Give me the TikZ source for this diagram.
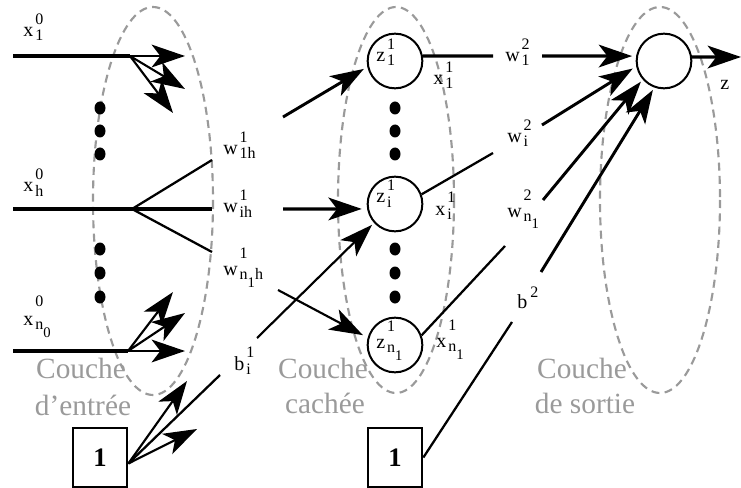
\documentclass[tikz,border=0pt]{standalone}
\usepackage{fontspec}
\setmainfont{Liberation Serif}
\usetikzlibrary{arrows.meta}
\definecolor{lgrey}{HTML}{9A9A9A}
\newcommand{\scr}{\fontsize{12}{12}\selectfont}
\newcommand{\sscr}{\fontsize{11}{11}\selectfont}
\newcommand{\lab}[4][.78em]{#2\kern.1em{\scr\ooalign{\raisebox{-.25em}{#3}\cr\raisebox{#1}{#4}\cr}}}
\newcommand{\nsub}[1]{\raisebox{-.5em}{\sscr #1}}
\tikzset{
  layer/.style={draw=lgrey, line width=1.6pt, dash pattern=on 6pt off 4pt},
  neuron/.style={circle, draw, fill=white, line width=1.5pt, minimum size=41pt, inner sep=0pt},
  biasbox/.style={draw, fill=white, line width=1.5pt, minimum width=41pt, minimum height=44pt,
    font=\fontsize{20}{20}\selectfont\bfseries},
  arr/.style={-{Stealth[length=25pt,width=17pt,inset=6.5pt]}, line width=1.6pt},
  thickline/.style={line width=2.4pt},
  thinline/.style={line width=1.7pt},
  lbl/.style={anchor=base west, inner sep=0pt, font=\fontsize{15}{15}\selectfont},
  couche/.style={anchor=base, inner sep=0pt, text=lgrey, font=\fontsize{22}{22}\selectfont},
  dot/.style={fill=black}
}
\begin{document}
\begin{tikzpicture}[x=0.75pt,y=-0.75pt]
\useasboundingbox (0,0) rectangle (741,488);

% layers
\draw[layer] (153,201) ellipse [x radius=60, y radius=194];
\draw[layer] (396,200) ellipse [x radius=58, y radius=193];
\draw[layer] (660,200) ellipse [x radius=60, y radius=193];

% dots
\foreach \yy in {108,131,154,249,273,297} {
  \fill[dot] (100,\yy) ellipse [x radius=5.5, y radius=6.5];
  \fill[dot] (395,\yy) ellipse [x radius=5.5, y radius=6.5];
}

% coordinates
\coordinate (s1) at (13,56);   \coordinate (j1) at (130,56);
\coordinate (t11) at (185,56); \coordinate (t12) at (185,89); \coordinate (t13) at (173,113);
\coordinate (sh) at (13,209);  \coordinate (jh) at (132,209);
\coordinate (e1) at (212,160); \coordinate (e2) at (212,209); \coordinate (e3) at (212,252);
\coordinate (sn) at (13,351);  \coordinate (jn) at (128,351);
\coordinate (tn1) at (173,292); \coordinate (tn2) at (185,313); \coordinate (tn3) at (185,351);
\coordinate (u1) at (283,117); \coordinate (ui) at (283,209); \coordinate (un) at (278,290);
\coordinate (bt1) at (187,381); \coordinate (bt2) at (197,429);
\coordinate (bc1) at (220,375); \coordinate (bc2) at (257,338);
\coordinate (o1a) at (493,56); \coordinate (o1b) at (542,56);
\coordinate (oia) at (493,153); \coordinate (oib) at (542,125);
\coordinate (ona) at (505,246); \coordinate (onb) at (543,200);
\coordinate (b2a) at (512,322); \coordinate (b2b) at (541,272);
\coordinate (zend) at (741,57);

% neurons and bias boxes
\node[neuron] (h1) at (395,61) {};
\node[neuron] (hi) at (395,204) {};
\node[neuron] (hn) at (395,345) {};
\node[neuron] (out) at (664,61) {};
\node[biasbox] (b1) at (100,457.5) {1};
\node[biasbox] (b2) at (395,457.5) {1};

% input layer
\draw[thickline] (s1) -- (j1);
\draw[arr, line width=2.2pt] (j1) -- (t11);
\draw[arr] (j1) -- (t12);
\draw[arr] (j1) -- (t13);
\draw[thickline] (sh) -- (jh);
\draw[thinline] (jh) -- (e1);
\draw[thickline] (jh) -- (e2);
\draw[thinline] (jh) -- (e3);
\draw[thickline] (sn) -- (jn);
\draw[arr] (jn) -- (tn1);
\draw[arr] (jn) -- (tn2);
\draw[arr, line width=2.2pt] (jn) -- (tn3);

% into hidden layer
\draw[arr, line width=2.2pt, shorten >=3pt] (u1) -- (h1.192);
\draw[arr, line width=2.4pt, shorten >=4pt] (ui) -- (hi.190);
\draw[arr, shorten >=4pt] (un) -- (hn.165);

% bias 1
\draw[arr] (b1.-12) -- (bt1);
\draw[arr] (b1.-12) -- (bt2);
\draw[thinline] (b1.-12) -- (bc1);
\draw[arr, shorten >=2pt] (bc2) -- (hi.222);

% hidden to output
\draw[thickline] (h1.10) -- (o1a);
\draw[arr, line width=2.4pt, shorten >=3pt] (o1b) -- (out.170);
\draw[thinline] (hi.20) -- (oia);
\draw[arr, line width=2.2pt, shorten >=3pt] (oib) -- (out.191);
\draw[thinline] (hn.20) -- (ona);
\draw[arr, line width=2.2pt, shorten >=2pt] (onb) -- (out.221);
\draw[thinline] (b2.east) -- (b2a);
\draw[arr, line width=2.2pt, shorten >=2pt] (b2b) -- (out.250);
\draw[arr, line width=2.4pt] (out.8) -- (zend);

% labels
\node[lbl] (lx1) at (23,37) {\lab{x}{1}{0}};
\node[lbl] (lxh) at (23,192) {\lab{x}{h}{0}};
\node[lbl] (lxn) at (23,325) {\lab[1.15em]{x}{n\nsub{0}}{0}};
\node[lbl] (lw1h) at (223,155) {\lab{w}{1h}{1}};
\node[lbl] (lwih) at (223,213) {\lab{w}{ih}{1}};
\node[lbl] (lwnh) at (223,275) {\lab[1.05em]{w}{n\nsub{1}h}{1}};
\node[lbl] (lz1) at (376,62) {\lab{z}{1}{1}};
\node[lbl] (lzi) at (376,203) {\lab{z}{i}{1}};
\node[lbl] (lzn) at (376,348) {\lab[1.05em]{z}{n\nsub{1}}{1}};
\node[lbl] (lx11) at (433,85) {\lab{x}{1}{1}};
\node[lbl] (lxi1) at (435,215) {\lab{x}{i}{1}};
\node[lbl] (lxn1) at (436,347) {\lab[1.05em]{x}{n\nsub{1}}{1}};
\node[lbl] (lbi) at (234,370) {\lab{b}{i}{1}};
\node[lbl] (lw12) at (505,62) {\lab{w}{1}{2}};
\node[lbl] (lwi2) at (507,143) {\lab{w}{i}{2}};
\node[lbl] (lwn2) at (507,217) {\lab[1.05em]{w}{n\nsub{1}}{2}};
\node[lbl] (lb2) at (517,308) {b\kern.15em\raisebox{.55em}{\scr 2}};
\node[lbl] (lz) at (720,90) {z};

% layer names
\node[couche] (c1a) at (81,378) {Couche};
\node[couche] (c1b) at (83,415) {d’entrée};
\node[couche] (c2a) at (323,378) {Couche};
\node[couche] (c2b) at (325,413) {cachée};
\node[couche] (c3a) at (582,378) {Couche};
\node[couche] (c3b) at (585,413) {de sortie};
\end{tikzpicture}
\end{document}
